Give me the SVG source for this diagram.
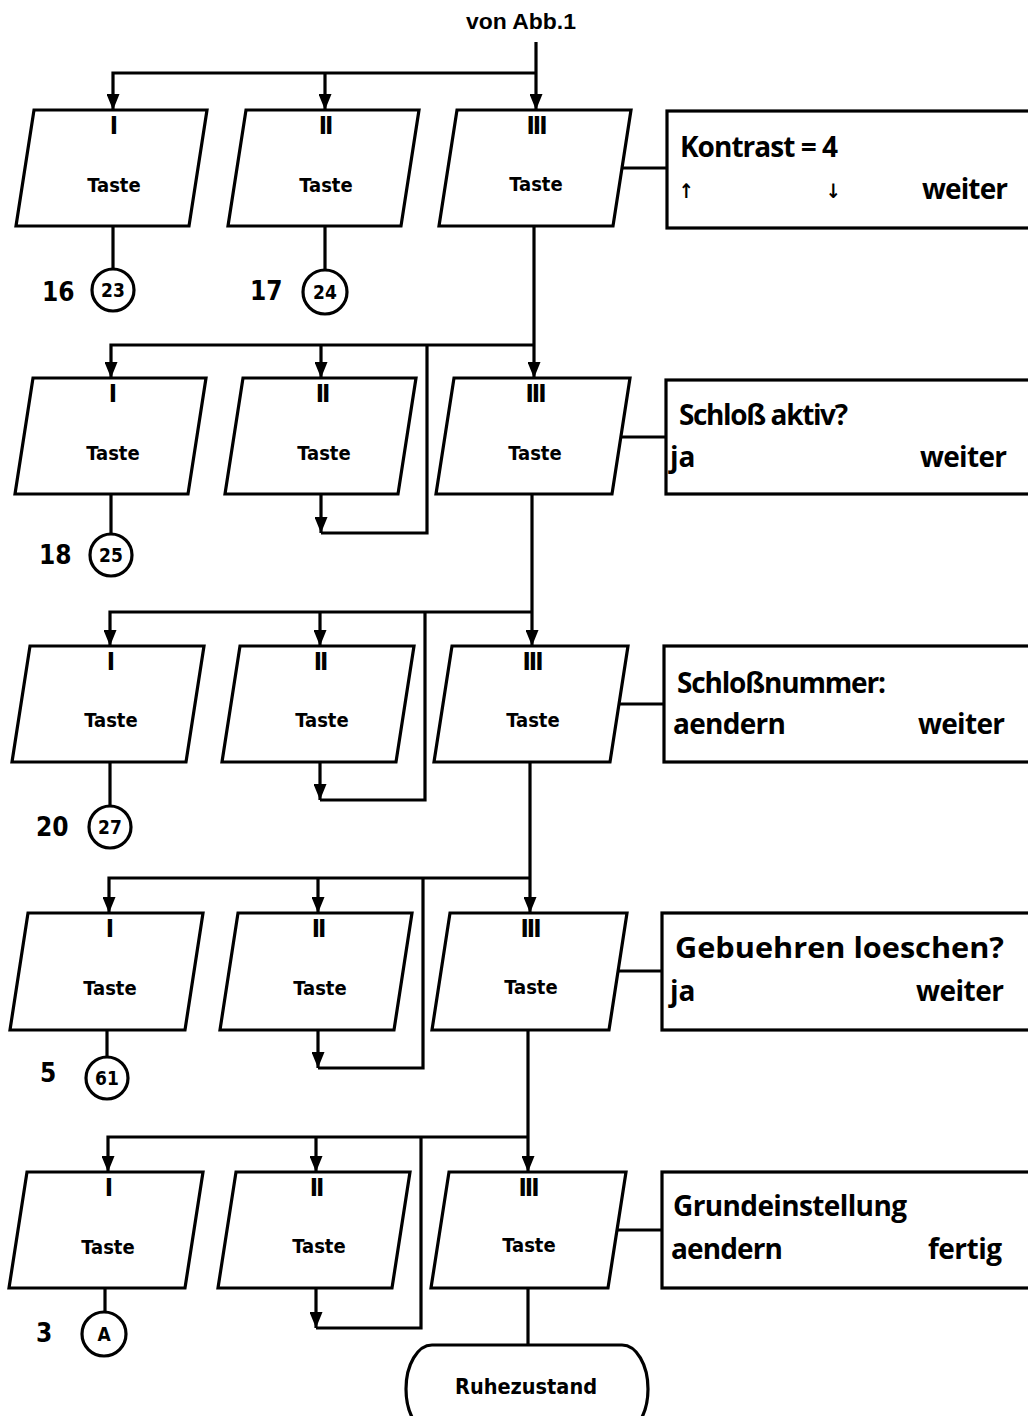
<svg xmlns="http://www.w3.org/2000/svg" width="1028" height="1416" viewBox="0 0 1028 1416">
<style>
.sh{fill:#fff;stroke:#000;stroke-width:3.2;stroke-linejoin:miter}
.ln{fill:none;stroke:#000;stroke-width:3.2}
.tc{font-family:"DejaVu Sans Condensed","DejaVu Sans",sans-serif;font-weight:bold;fill:#000}
.tk{font-size:20px;text-anchor:middle}
.rm{font-size:25px;text-anchor:middle;letter-spacing:-2px}
.num{font-size:26px}
.cn{font-size:19px;text-anchor:middle}
.bx{font-family:"Open Sans","Noto Sans",sans-serif;font-weight:bold;font-size:28px;fill:#000}
</style>
<defs>
<marker id="ah" markerUnits="userSpaceOnUse" markerWidth="16" markerHeight="13" refX="16" refY="6.5" orient="auto" viewBox="0 0 16 13">
<path d="M0,0 L16,6.5 L0,13 z" fill="#000"/>
</marker>
</defs>
<rect width="1028" height="1416" fill="#fff"/>

<g id="connectors">
<path class="ln" d="M536,42 V110" marker-end="url(#ah)"/>
<path class="ln" d="M536,73 H113 V110" marker-end="url(#ah)"/>
<path class="ln" d="M325,73 V110" marker-end="url(#ah)"/>
<path class="ln" d="M113,226 V269"/>
<path class="ln" d="M325,226 V270"/>
<path class="ln" d="M621,168 H667"/>
<path class="ln" d="M534,226 V378" marker-end="url(#ah)"/>
<path class="ln" d="M534,345 H111 V378" marker-end="url(#ah)"/>
<path class="ln" d="M321,345 V378" marker-end="url(#ah)"/>
<path class="ln" d="M111,494 V534"/>
<path class="ln" d="M321,494 V533" marker-end="url(#ah)"/>
<path class="ln" d="M321,533 H427 V345"/>
<path class="ln" d="M618,437 H666"/>
<path class="ln" d="M532,494 V646" marker-end="url(#ah)"/>
<path class="ln" d="M532,612 H110 V646" marker-end="url(#ah)"/>
<path class="ln" d="M320,612 V646" marker-end="url(#ah)"/>
<path class="ln" d="M110,762 V806"/>
<path class="ln" d="M320,762 V800" marker-end="url(#ah)"/>
<path class="ln" d="M320,800 H425 V612"/>
<path class="ln" d="M616,704 H664"/>
<path class="ln" d="M530,762 V913" marker-end="url(#ah)"/>
<path class="ln" d="M530,878 H109 V913" marker-end="url(#ah)"/>
<path class="ln" d="M318,878 V913" marker-end="url(#ah)"/>
<path class="ln" d="M107,1030 V1057"/>
<path class="ln" d="M318,1030 V1068" marker-end="url(#ah)"/>
<path class="ln" d="M318,1068 H423 V878"/>
<path class="ln" d="M614,971 H662"/>
<path class="ln" d="M528,1030 V1172" marker-end="url(#ah)"/>
<path class="ln" d="M528,1137 H108 V1172" marker-end="url(#ah)"/>
<path class="ln" d="M316,1137 V1172" marker-end="url(#ah)"/>
<path class="ln" d="M105,1288 V1312"/>
<path class="ln" d="M316,1288 V1328" marker-end="url(#ah)"/>
<path class="ln" d="M316,1328 H421 V1137"/>
<path class="ln" d="M613,1230 H662"/>
<path class="ln" d="M528,1288 V1345"/>
</g>

<text x="521" y="29" style="font-family:'Liberation Sans',Arial,sans-serif;font-weight:bold;font-size:22px;text-anchor:middle" textLength="110" lengthAdjust="spacingAndGlyphs">von Abb.1</text>

<g id="r1-I"><polygon class="sh" points="34,110 207,110 189,226 16,226"/><text class="tc rm" x="113" y="134">I</text><text class="tc tk" x="114" y="192">Taste</text></g>
<g id="r1-II"><polygon class="sh" points="246,110 419,110 401,226 228,226"/><text class="tc rm" x="325" y="134">II</text><text class="tc tk" x="326" y="192">Taste</text></g>
<g id="r1-III"><polygon class="sh" points="457,110 631,110 613,226 439,226"/><text class="tc rm" x="536" y="134">III</text><text class="tc tk" x="536" y="191">Taste</text></g>
<g id="r1-box"><rect class="sh" x="667" y="111" width="380" height="117"/>
<text class="bx" x="680" y="157" textLength="158">Kontrast = 4</text>
<text class="tc" x="686" y="198" style="font-size:20px;text-anchor:middle">↑</text>
<text class="tc" x="833" y="198" style="font-size:20px;text-anchor:middle">↓</text>
<text class="bx" x="922" y="199" textLength="86">weiter</text></g>
<g id="r1-c23"><circle class="sh" cx="113" cy="290" r="21"/><text class="tc cn" x="113" y="297">23</text><text class="tc num" x="42" y="301">16</text></g>
<g id="r1-c24"><circle class="sh" cx="325" cy="292" r="22"/><text class="tc cn" x="325" y="299">24</text><text class="tc num" x="250" y="300">17</text></g>

<g id="r2-I"><polygon class="sh" points="33,378 206,378 188,494 15,494"/><text class="tc rm" x="112" y="402">I</text><text class="tc tk" x="113" y="460">Taste</text></g>
<g id="r2-II"><polygon class="sh" points="243,378 416,378 398,494 225,494"/><text class="tc rm" x="322" y="402">II</text><text class="tc tk" x="324" y="460">Taste</text></g>
<g id="r2-III"><polygon class="sh" points="454,378 630,378 612,494 436,494"/><text class="tc rm" x="535" y="402">III</text><text class="tc tk" x="535" y="460">Taste</text></g>
<g id="r2-box"><rect class="sh" x="666" y="380" width="380" height="114"/>
<text class="bx" x="679" y="425" textLength="169">Schloß aktiv?</text>
<text class="bx" x="670" y="467">ja</text>
<text class="bx" x="920" y="467" textLength="87">weiter</text></g>
<g id="r2-c25"><circle class="sh" cx="111" cy="555" r="21"/><text class="tc cn" x="111" y="562">25</text><text class="tc num" x="39" y="564">18</text></g>

<g id="r3-I"><polygon class="sh" points="30,646 204,646 186,762 12,762"/><text class="tc rm" x="110" y="670">I</text><text class="tc tk" x="111" y="727">Taste</text></g>
<g id="r3-II"><polygon class="sh" points="240,646 414,646 396,762 222,762"/><text class="tc rm" x="320" y="670">II</text><text class="tc tk" x="322" y="727">Taste</text></g>
<g id="r3-III"><polygon class="sh" points="452,646 628,646 610,762 434,762"/><text class="tc rm" x="532" y="670">III</text><text class="tc tk" x="533" y="727">Taste</text></g>
<g id="r3-box"><rect class="sh" x="664" y="646" width="380" height="116"/>
<text class="bx" x="677" y="693" textLength="209">Schloßnummer:</text>
<text class="bx" x="673" y="734" textLength="113">aendern</text>
<text class="bx" x="918" y="734" textLength="87">weiter</text></g>
<g id="r3-c27"><circle class="sh" cx="110" cy="827" r="21"/><text class="tc cn" x="110" y="834">27</text><text class="tc num" x="36" y="836">20</text></g>

<g id="r4-I"><polygon class="sh" points="28,913 203,913 185,1030 10,1030"/><text class="tc rm" x="109" y="937">I</text><text class="tc tk" x="110" y="995">Taste</text></g>
<g id="r4-II"><polygon class="sh" points="238,913 412,913 394,1030 220,1030"/><text class="tc rm" x="318" y="937">II</text><text class="tc tk" x="320" y="995">Taste</text></g>
<g id="r4-III"><polygon class="sh" points="450,913 627,913 609,1030 432,1030"/><text class="tc rm" x="530" y="937">III</text><text class="tc tk" x="531" y="994">Taste</text></g>
<g id="r4-box"><rect class="sh" x="662" y="913" width="380" height="117"/>
<text class="bx" x="675" y="958" style="font-size:29px" textLength="329" lengthAdjust="spacingAndGlyphs">Gebuehren loeschen?</text>
<text class="bx" x="670" y="1001">ja</text>
<text class="bx" x="916" y="1001" textLength="88">weiter</text></g>
<g id="r4-c61"><circle class="sh" cx="107" cy="1078" r="21"/><text class="tc cn" x="107" y="1085">61</text><text class="tc num" x="40" y="1082">5</text></g>

<g id="r5-I"><polygon class="sh" points="27,1172 203,1172 185,1288 9,1288"/><text class="tc rm" x="108" y="1196">I</text><text class="tc tk" x="108" y="1254">Taste</text></g>
<g id="r5-II"><polygon class="sh" points="236,1172 410,1172 392,1288 218,1288"/><text class="tc rm" x="316" y="1196">II</text><text class="tc tk" x="319" y="1253">Taste</text></g>
<g id="r5-III"><polygon class="sh" points="449,1172 626,1172 608,1288 431,1288"/><text class="tc rm" x="528" y="1196">III</text><text class="tc tk" x="529" y="1252">Taste</text></g>
<g id="r5-box"><rect class="sh" x="662" y="1172" width="380" height="116"/>
<text class="bx" x="673" y="1216" textLength="234">Grundeinstellung</text>
<text class="bx" x="671" y="1259" textLength="112">aendern</text>
<text class="bx" x="928" y="1259" textLength="74">fertig</text></g>
<g id="r5-cA"><circle class="sh" cx="104" cy="1334" r="22"/><text class="tc cn" x="104" y="1341">A</text><text class="tc num" x="36" y="1342">3</text></g>

<g id="ruhezustand"><rect class="sh" x="406" y="1345" width="242" height="88" rx="26" ry="44"/>
<text class="tc" x="526" y="1394" style="font-size:21px;text-anchor:middle" textLength="142" lengthAdjust="spacingAndGlyphs">Ruhezustand</text></g>
</svg>
